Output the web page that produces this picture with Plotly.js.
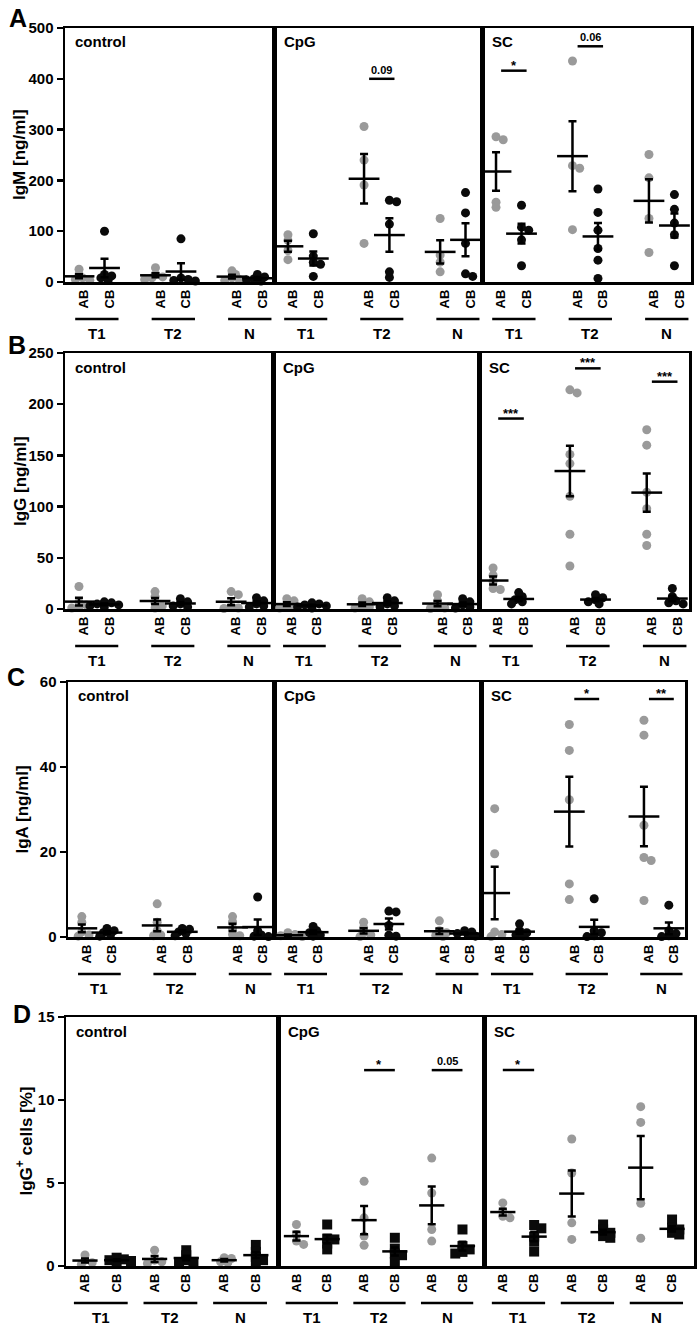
<!DOCTYPE html>
<html><head><meta charset="utf-8">
<script src="https://cdn.plot.ly/plotly-3.0.1.min.js"></script>
<style>body{margin:0;background:#fff}#chart{width:700px;height:1332px}</style>
</head><body><div id="chart"></div>
<script>
const stims = ['control','CpG','SC'];
const groups = ['T1','T2','N'];

// Panel A: IgM [ng/ml]  (each array: [T1, T2, N])
const igm_control_AB = [[25,15,8,3,5],[28,15,10,5,8],[22,15,8,5,3]];
const igm_control_CB = [[100,15,8,3,12],[85,5,3,2,8],[15,10,6,4,2]];
const igm_CpG_AB = [[93,82,62,44],[306,240,191,76],[125,53,39,20]];
const igm_CpG_CB = [[95,51,39,35,11],[158,161,114,9,20],[176,136,76,11,16]];
const igm_SC_AB = [[286,280,157,147],[435,229,224,103],[251,205,125,58]];
const igm_SC_CB = [[151,108,102,83,32],[183,137,102,66,43,7],[172,143,116,93,32]];

// Panel B: IgG [ng/ml]
const igg_control_AB = [[22,7,4,2,1],[17,12,6,3,1],[17,14,3,1,0.5]];
const igg_control_CB = [[7,6,5,4,3,2],[10,7,5,3,2],[11,8,5,3,2]];
const igg_CpG_AB = [[10,8,3,2,1],[10,7,3,2,1],[14,8,3,1,0.5]];
const igg_CpG_CB = [[6,5,4,3,2,1],[11,8,5,3,2],[10,7,4,2,1]];
const igg_SC_AB = [[40,33,27,20,19],[211,214,151,142,110,73,42],[175,160,114,98,73,62]];
const igg_SC_CB = [[16,12,9,7,5],[14,11,9,7,5],[20,12,8,6,5]];

// Panel C: IgA [ng/ml]
const iga_control_AB = [[4.8,3.5,1.2,0.5,0.2],[7.8,3.5,1.5,0.5,0.3],[4.8,3.6,2.0,0.6,0.3]];
const iga_control_CB = [[2,1.5,1,0.5,0.2],[2,1.8,1.2,0.8,0.3],[9.4,1.5,0.5,0.2,0.1]];
const iga_CpG_AB = [[1.0,0.6,0.3,0.1,0.05],[3.5,2.2,1.0,0.5,0.1],[3.8,1.5,1.0,0.4,0.1]];
const iga_CpG_CB = [[2.5,1.5,1,0.5,0.2],[6.1,5.9,2.7,0.4,0.2],[1.5,1.2,0.8,0.4,0.2]];
const iga_SC_AB = [[30.2,19.6,1.2,0.6,0.1],[50,43.9,32.3,12.5,8.8],[51,47.5,26.3,18.7,18,8.6]];
const iga_SC_CB = [[3.1,1.5,1,0.5,0.2],[9,1.5,1,0.3,0.1],[7.5,1.5,0.8,0.3,0.1]];

// Panel D: IgG+ cells [%]
const cells_control_AB = [[0.66,0.35,0.2,0.1],[0.95,0.35,0.25,0.15],[0.5,0.45,0.25,0.2]];
const cells_control_CB = [[0.5,0.4,0.35,0.3,0.2],[0.95,0.65,0.35,0.25,0.2],[1.27,0.85,0.55,0.35,0.25]];
const cells_CpG_AB = [[2.5,1.9,1.5,1.3],[5.1,2.9,1.8,1.25],[6.5,4.4,2.2,1.5]];
const cells_CpG_CB = [[2.5,1.65,1.6,1.35,1.0],[1.7,1.05,0.75,0.65,0.25],[2.2,1.2,1.0,0.85,0.75]];
const cells_SC_AB = [[3.8,3.3,3.0,2.9],[7.65,5.6,2.6,1.6],[9.6,8.65,3.78,1.67]];
const cells_SC_CB = [[2.47,2.27,1.77,1.47,0.87],[2.5,2.2,2.0,1.8,1.7],[2.8,2.3,2.2,2.0,1.9]];

// significance marks (stimulus, group, label, bar height in data units)
const sigA_stim = ['CpG','SC','SC'], sigA_group = ['T2','T1','T2'], sigA_text = ['0.09','*','0.06'], sigA_y = [400,416,464];
const sigB_stim = ['SC','SC','SC'], sigB_group = ['T1','T2','N'], sigB_text = ['***','***','***'], sigB_y = [186,235,222];
const sigC_stim = ['SC','SC'], sigC_group = ['T2','N'], sigC_text = ['*','**'], sigC_y = [56,56];
const sigD_stim = ['CpG','CpG','SC'], sigD_group = ['T2','N','T1'], sigD_text = ['*','0.05','*'], sigD_y = [11.8,11.8,11.8];

const rowData = [
  {AB:[igm_control_AB,igm_CpG_AB,igm_SC_AB], CB:[igm_control_CB,igm_CpG_CB,igm_SC_CB],
   sig:[sigA_stim,sigA_group,sigA_text,sigA_y]},
  {AB:[igg_control_AB,igg_CpG_AB,igg_SC_AB], CB:[igg_control_CB,igg_CpG_CB,igg_SC_CB],
   sig:[sigB_stim,sigB_group,sigB_text,sigB_y]},
  {AB:[iga_control_AB,iga_CpG_AB,iga_SC_AB], CB:[iga_control_CB,iga_CpG_CB,iga_SC_CB],
   sig:[sigC_stim,sigC_group,sigC_text,sigC_y]},
  {AB:[cells_control_AB,cells_CpG_AB,cells_SC_AB], CB:[cells_control_CB,cells_CpG_CB,cells_SC_CB],
   sig:[sigD_stim,sigD_group,sigD_text,sigD_y]}
];

const W = 700, H = 1332;
const FONT = 'Liberation Sans, Arial, Helvetica, sans-serif';
const rowLayout = [
  {letter:'A', lx:18, ly:18, title:'IgM [ng/ml]', tx:20, ymax:500, dtick:100, xb:[65,274,482,691], yt:28, yb:282,
   pos:[0,1,3,4,6,7], xr:[-0.55,7.65], cbSym:'circle', shift:0.2, barW:22},
  {letter:'B', lx:17, ly:345, title:'IgG [ng/ml]', tx:20, ymax:250, dtick:50, xb:[65,273,479,689], yt:353, yb:609,
   pos:[0,1,3,4,6,7], xr:[-0.55,7.65], cbSym:'circle', shift:0.2, barW:22},
  {letter:'C', lx:16, ly:677, title:'IgA [ng/ml]', tx:22, ymax:60, dtick:20, xb:[68,274,481,685], yt:682, yb:937,
   pos:[0,1,3,4,6,7], xr:[-0.55,7.65], cbSym:'circle', shift:0.2, barW:22},
  {letter:'D', lx:22, ly:1014, title:'IgG<sup>+</sup> cells [%]', tx:24, ymax:15, dtick:5, xb:[66,278,484,694], yt:1017, yb:1266,
   pos:[0,1,2.2,3.2,4.4,5.4], xr:[-0.6,6.1], cbSym:'square', shift:0, barW:18}
];

function swarm(vals, pos, xUnit, yUnit, d){
  const order = vals.map((v,i)=>i).sort((a,b)=>vals[b]-vals[a]);
  const placed = []; const xs = new Array(vals.length);
  for (const i of order){
    const ypx = vals[i]*yUnit;
    for (let k=0;k<60;k++){
      const m = k===0 ? 0 : (k%2 ? Math.ceil(k/2) : -Math.ceil(k/2));
      const xpx = m*d*0.4;
      if (placed.every(p => Math.hypot(p[0]-xpx, p[1]-ypx) >= d*0.55)){
        placed.push([xpx,ypx]); xs[i] = pos + xpx/xUnit; break;
      }
    }
  }
  return xs;
}
function mean(a){ return a.reduce((s,v)=>s+v,0)/a.length; }
function sem(a){ const m=mean(a); const v=a.reduce((s,x)=>s+(x-m)*(x-m),0)/(a.length-1); return Math.sqrt(v/a.length); }

const traces = [], layout = {
  width:W, height:H, margin:{l:0,r:0,t:0,b:0}, showlegend:false,
  paper_bgcolor:'#fff', plot_bgcolor:'#fff', font:{family:FONT, color:'#000'},
  annotations:[], shapes:[]
};
const px2x = p => p/W, py2y = p => 1 - p/H;

rowLayout.forEach((R, r) => {
  const D = rowData[r];
  layout.annotations.push({xref:'paper', yref:'paper', x:px2x(R.lx), y:py2y(R.ly), text:R.letter, showarrow:false,
    xanchor:'center', yanchor:'middle', font:{size:25, family:FONT, weight:'bold'}});
  layout.annotations.push({xref:'paper', yref:'paper', x:px2x(R.tx), y:py2y((R.yt+R.yb)/2), text:R.title, showarrow:false,
    textangle:-90, xanchor:'center', yanchor:'middle', font:{size:17, family:FONT, weight:'bold'}});
  stims.forEach((s, c) => {
    const k = r*3 + c + 1;
    const xa = 'xaxis' + (k===1?'':k), ya = 'yaxis' + (k===1?'':k);
    const xr = 'x' + (k===1?'':k), yr = 'y' + (k===1?'':k);
    const tickvals = [], ticktext = [];
    groups.forEach((g, gi) => {
      tickvals.push(R.pos[gi*2] + R.shift, R.pos[gi*2+1] + R.shift);
      ticktext.push('<b>AB</b>', '<b>CB</b>');
    });
    layout[xa] = {domain:[px2x(R.xb[c]), px2x(R.xb[c+1])], range:R.xr, anchor:yr,
      showline:true, mirror:true, linewidth:2.5, linecolor:'#000', showgrid:false, zeroline:false,
      ticks:'', tickvals, ticktext, tickangle:-90, tickfont:{size:13, family:FONT, weight:'bold'}, fixedrange:true};
    layout[ya] = {domain:[py2y(R.yb), py2y(R.yt)], range:[0, R.ymax], anchor:xr, dtick:R.dtick,
      showline:true, mirror:true, linewidth:2.5, linecolor:'#000', showgrid:false, zeroline:false,
      ticks: c===0 ? 'outside' : '', ticklen:6, tickwidth:2.5, tickcolor:'#000',
      showticklabels: c===0, tickfont:{size:15, family:FONT, weight:'bold'}, fixedrange:true};
    const xUnit = (R.xb[c+1]-R.xb[c])/(R.xr[1]-R.xr[0]);
    const yUnit = (R.yb-R.yt)/R.ymax;
    layout.annotations.push({xref:xr+' domain', yref:yr+' domain', x:0, y:1, xshift:8, yshift:-14, text:s,
      showarrow:false, xanchor:'left', yanchor:'middle', font:{size:15, family:FONT, weight:'bold'}});
    groups.forEach((g, gi) => {
      ['AB','CB'].forEach((sub, si) => {
        const vals = D[sub][c][gi];
        const pos = R.pos[gi*2+si];
        const isAB = sub==='AB';
        traces.push({type:'scatter', mode:'markers', xaxis:xr, yaxis:yr, cliponaxis:false, hoverinfo:'skip',
          x:swarm(vals, pos, xUnit, yUnit, 9), y:vals,
          marker:{symbol: isAB ? 'circle' : R.cbSym, size: isAB ? 9 : (R.cbSym==='square' ? 10 : 9),
            color: isAB ? '#9a9a9a' : '#0a0a0a', line:{width:0}}});
      });
      const x0 = R.pos[gi*2] + R.shift - 0.35, x1 = R.pos[gi*2+1] + R.shift + 0.35;
      layout.shapes.push({type:'line', xref:xr, yref:'paper', x0, x1, y0:py2y(R.yb+37), y1:py2y(R.yb+37),
        line:{color:'#000', width:2.5}});
      layout.annotations.push({xref:xr, yref:'paper', x:(x0+x1)/2, y:py2y(R.yb+51), text:g, showarrow:false,
        xanchor:'center', yanchor:'middle', font:{size:15, family:FONT, weight:'bold'}});
    });
    groups.forEach((g, gi) => {
      ['AB','CB'].forEach((sub, si) => {
        const vals = D[sub][c][gi];
        traces.push({type:'scatter', mode:'markers', xaxis:xr, yaxis:yr, cliponaxis:false, hoverinfo:'skip',
          x:[R.pos[gi*2+si]], y:[mean(vals)],
          marker:{symbol:'line-ew', size:R.barW, color:'#000', line:{width:2.5, color:'#000'}},
          error_y:{type:'data', array:[sem(vals)], visible:true, thickness:2.5, width:4, color:'#000'}});
      });
    });
  });
  const [ss, sg, st, sy] = D.sig;
  ss.forEach((s, i) => {
    const c = stims.indexOf(s), gi = groups.indexOf(sg[i]);
    const k = r*3 + c + 1;
    const xr = 'x' + (k===1?'':k), yr = 'y' + (k===1?'':k);
    const x0 = R.pos[gi*2] + R.shift, x1 = R.pos[gi*2+1] + R.shift;
    layout.shapes.push({type:'line', xref:xr, yref:yr, x0, x1, y0:sy[i], y1:sy[i], line:{color:'#000', width:2.5}});
    const star = st[i].indexOf('*') >= 0;
    layout.annotations.push({xref:xr, yref:yr, x:(x0+x1)/2, y:sy[i], text:st[i], showarrow:false,
      xanchor:'center', yanchor:'bottom', yshift: star ? -4 : 1,
      font:{size: star ? 13 : 11, family:FONT, weight:'bold'}});
  });
});

Plotly.newPlot('chart', traces, layout, {displayModeBar:false, staticPlot:true});
</script>
</body></html>
